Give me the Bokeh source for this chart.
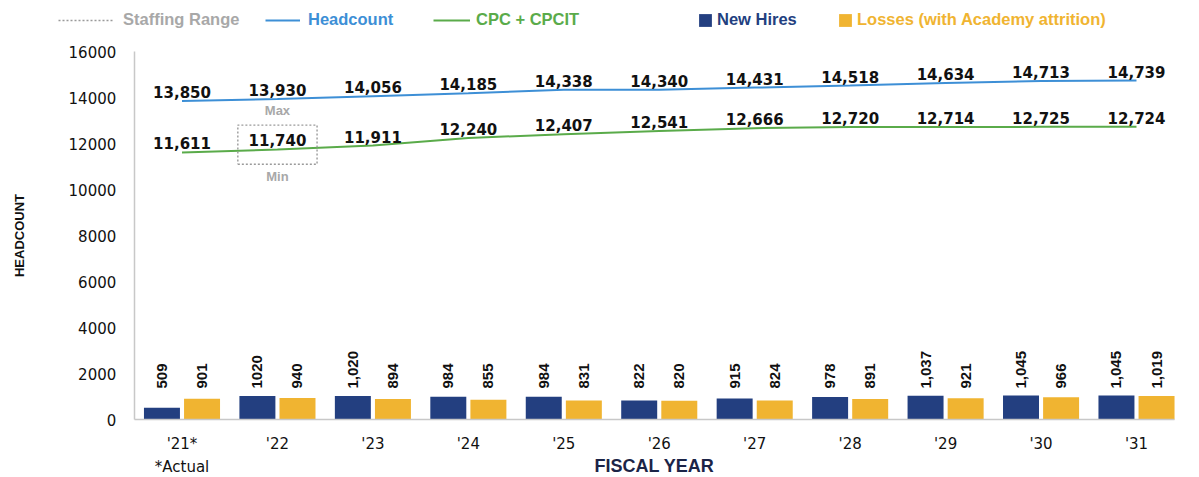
import math
from bokeh.plotting import figure
from bokeh.models import ColumnDataSource, FixedTicker, Legend, LegendItem, Range1d
from bokeh.core.properties import value
from bokeh.transform import dodge
from bokeh.embed import file_html
from bokeh.resources import INLINE

# ---------------- data ----------------
years = ["'21*", "'22", "'23", "'24", "'25", "'26", "'27", "'28", "'29", "'30", "'31"]
footnote = "*Actual"
headcount = [13850, 13930, 14056, 14185, 14338, 14340, 14431, 14518, 14634, 14713, 14739]
cpc = [11611, 11740, 11911, 12240, 12407, 12541, 12666, 12720, 12714, 12725, 12724]
new_hires = [509, 1020, 1020, 984, 984, 822, 915, 978, 1037, 1045, 1045]
new_hire_labels = ["509", "1020", "1,020", "984", "984", "822", "915", "978", "1,037", "1,045", "1,045"]
losses = [901, 940, 894, 855, 831, 820, 824, 891, 921, 966, 1019]
loss_labels = ["901", "940", "894", "855", "831", "820", "824", "891", "921", "966", "1,019"]
staffing_range_year = 1          # index of '22
staffing_range = [11100, 12800]  # dotted box (Min, Max)
y_ticks = [0, 2000, 4000, 6000, 8000, 10000, 12000, 14000, 16000]

# ---------------- colours ----------------
C_HEAD = "#3d8fd6"
C_CPC = "#5aab4a"
C_HIRE = "#233f80"
C_LOSS = "#f0b431"
C_RANGE = "#a8a8a8"
C_AXIS = "#c8c8c8"

# ---------------- layout (pixels) ----------------
W, H = 1197, 475
CAT0_PX, STEP_PX = 181.5, 95.45      # screen x of first category, spacing
ZERO_PX, PX_PER_UNIT = 419, 368 / 16000

xs = list(range(len(years)))
src = ColumnDataSource(dict(
    x=xs, head=headcount, cpc=cpc, hires=new_hires, losses=losses,
    head_lbl=[f"{v:,}" for v in headcount], cpc_lbl=[f"{v:,}" for v in cpc],
    hire_lbl=new_hire_labels, loss_lbl=loss_labels, zero=[0] * len(xs),
))

x_range = Range1d(-CAT0_PX / STEP_PX, (W - CAT0_PX) / STEP_PX)
y_range = Range1d(-(H - ZERO_PX) / PX_PER_UNIT, ZERO_PX / PX_PER_UNIT)
p = figure(width=W, height=H, x_range=x_range, y_range=y_range,
           output_backend="svg", toolbar_location=None,
           min_border=0, min_border_left=0, min_border_right=0,
           min_border_top=0, min_border_bottom=0)
p.xgrid.visible = False
p.ygrid.visible = False
p.outline_line_color = None
p.background_fill_color = "white"

# bars
BW = 0.377
r_hire = p.vbar(x=dodge("x", -0.21, range=p.x_range), top="hires", width=BW, source=src,
                fill_color=C_HIRE, line_color=None)
r_loss = p.vbar(x=dodge("x", 0.21, range=p.x_range), top="losses", width=BW, source=src,
                fill_color=C_LOSS, line_color=None)

bar_lbl_kw = dict(angle=math.pi / 2, text_align="left", text_baseline="middle", y_offset=-31,
                  text_font=value("Liberation Sans"), text_font_style="bold",
                  text_font_size="15px", text_color="#111111", source=src)
p.text(x=dodge("x", -0.21, range=p.x_range), y="zero", text="hire_lbl", **bar_lbl_kw)
p.text(x=dodge("x", 0.21, range=p.x_range), y="zero", text="loss_lbl", **bar_lbl_kw)

# lines
r_head = p.line("x", "head", source=src, line_color=C_HEAD, line_width=2)
r_cpc = p.line("x", "cpc", source=src, line_color=C_CPC, line_width=2)
line_lbl_kw = dict(text_align="center", text_baseline="bottom", y_offset=-3,
                   text_font=value("DejaVu Sans"), text_font_style="bold",
                   text_font_size="15px", text_color="#111111", source=src)
p.text("x", "head", text="head_lbl", **line_lbl_kw)
p.text("x", "cpc", text="cpc_lbl", **line_lbl_kw)

# staffing range box (closed dotted outline, also used as legend glyph)
half = 0.415
bx0, bx1 = staffing_range_year - half, staffing_range_year + half
lo, hi = staffing_range
r_range = p.line(x=[bx0, bx1, bx1, bx0, bx0], y=[lo, lo, hi, hi, lo],
                 line_color="#9a9a9a", line_dash="2 2", line_width=1.4)
mm_kw = dict(text_align="center", text_font=value("Liberation Sans"), text_font_style="bold",
             text_font_size="13px", text_color=C_RANGE)
p.text(x=[staffing_range_year], y=[headcount[staffing_range_year]], text=["Max"],
       text_baseline="top", y_offset=4, **mm_kw)
p.text(x=[staffing_range_year], y=[lo], text=["Min"],
       text_baseline="top", y_offset=5, **mm_kw)

# axes (fixed inside the full-canvas frame)
X_LO, X_HI = -0.5, 10.4
p.xaxis.fixed_location = 0
p.xaxis.bounds = (X_LO, X_HI)
p.xaxis.ticker = FixedTicker(ticks=xs)
labels = list(years)
labels[0] = years[0] + "\n" + footnote
p.xaxis.major_label_overrides = {i: t for i, t in zip(xs, labels)}
p.xaxis.major_tick_line_color = None
p.xaxis.minor_tick_line_color = None
p.xaxis.axis_line_color = C_AXIS
p.xaxis.axis_line_width = 1.5
p.xaxis.major_label_standoff = 9
p.xaxis.major_label_text_font = "DejaVu Sans"
p.xaxis.major_label_text_font_size = "15px"
p.xaxis.major_label_text_line_height = 1.3
p.xaxis.major_label_text_color = "#111111"
p.xaxis.axis_label = "FISCAL YEAR"
p.xaxis.axis_label_text_font = "Liberation Sans"
p.xaxis.axis_label_text_font_style = "bold"
p.xaxis.axis_label_text_font_size = "18px"
p.xaxis.axis_label_text_color = "#1b2447"
p.xaxis.axis_label_standoff = -23

p.yaxis.fixed_location = X_LO
p.yaxis.bounds = (0, 16000)
p.yaxis.ticker = FixedTicker(ticks=y_ticks)
p.yaxis.major_tick_line_color = None
p.yaxis.minor_tick_line_color = None
p.yaxis.axis_line_color = C_AXIS
p.yaxis.axis_line_width = 1.5
p.yaxis.major_label_standoff = 12
p.yaxis.major_label_text_font = "DejaVu Sans"
p.yaxis.major_label_text_font_size = "15px"
p.yaxis.major_label_text_color = "#111111"
p.yaxis.axis_label = "HEADCOUNT"
p.yaxis.axis_label_text_font = "Liberation Sans"
p.yaxis.axis_label_text_font_style = "bold"
p.yaxis.axis_label_text_font_size = "13px"
p.yaxis.axis_label_text_color = "#111111"
p.yaxis.axis_label_standoff = 39


def add_legend(renderer, label, color, xloc, glyph_w, standoff):
    leg = Legend(items=[LegendItem(label=label, renderers=[renderer])],
                 location=(xloc, H - 29), orientation="horizontal",
                 padding=0, margin=0, spacing=0, border_line_color=None,
                 background_fill_alpha=0, label_text_color=color,
                 label_text_font="Liberation Sans", label_text_font_style="bold",
                 label_text_font_size="16.5px", glyph_width=glyph_w, glyph_height=16,
                 label_height=16, label_standoff=standoff)
    p.add_layout(leg)


add_legend(r_range, "Staffing Range", C_RANGE, 58, 55, 10)
add_legend(r_head, "Headcount", C_HEAD, 265, 35, 8)
add_legend(r_cpc, "CPC + CPCIT", C_CPC, 433, 37, 6)
add_legend(r_hire, "New Hires", C_HIRE, 697, 16, 4)
add_legend(r_loss, "Losses (with Academy attrition)", C_LOSS, 837, 16, 4)

open("out.html", "w").write(file_html(p, INLINE))
